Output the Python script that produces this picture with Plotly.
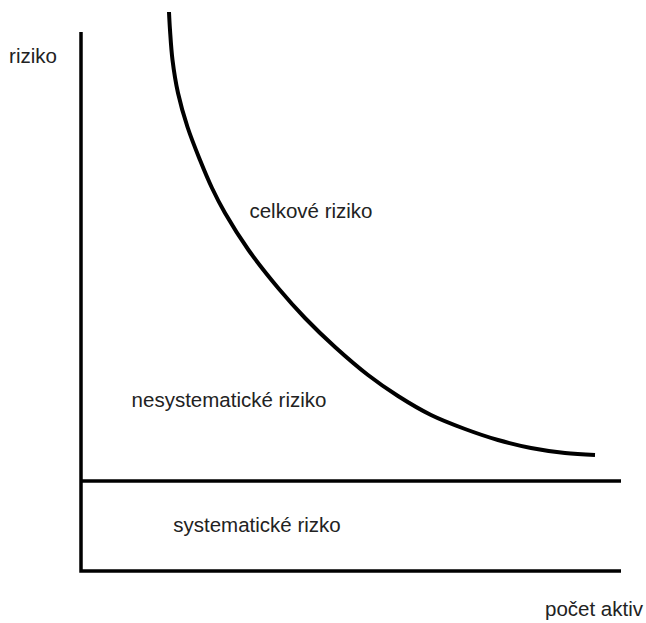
import plotly.graph_objects as go

H = 623
# curve (total risk), in pixel-like units (x right, y down)
curve_x = [169, 170, 172.5, 178, 187.5, 200, 212, 225, 248.5, 279, 305, 335, 368, 398, 431, 465, 498, 531, 565, 595]
curve_y = [12, 30, 60, 93, 127, 160, 188, 213, 250, 289, 318, 347, 375, 396, 415, 429, 440, 448, 453, 455]

axis_x = [81, 81, 621]
axis_y = [32, 571, 571]

sys_x = [81, 621]
sys_y = [481, 481]

labels = ["riziko", "celkové riziko", "nesystematické riziko", "systematické rizko", "počet aktiv"]
label_x = [33, 311, 229, 257, 594]
label_y = [58, 213, 402, 527, 611]

fig = go.Figure()
fig.add_trace(go.Scatter(x=axis_x, y=[H - v for v in axis_y], mode="lines",
                         line=dict(color="black", width=3.5), hoverinfo="skip"))
fig.add_trace(go.Scatter(x=sys_x, y=[H - v for v in sys_y], mode="lines",
                         line=dict(color="black", width=3.5), hoverinfo="skip"))
fig.add_trace(go.Scatter(x=curve_x, y=[H - v for v in curve_y], mode="lines",
                         line=dict(color="black", width=4, shape="spline", smoothing=1.0), hoverinfo="skip"))
fig.add_trace(go.Scatter(x=label_x, y=[H - v for v in label_y], mode="text", text=labels,
                         textposition="middle center",
                         textfont=dict(family="Liberation Sans, Arial", size=20.5, color="#222222"),
                         hoverinfo="skip"))

fig.update_layout(
    width=646, height=623,
    margin=dict(l=0, r=0, t=0, b=0),
    paper_bgcolor="white", plot_bgcolor="white",
    showlegend=False,
    xaxis=dict(range=[0, 646], visible=False, fixedrange=True),
    yaxis=dict(range=[0, 623], visible=False, fixedrange=True),
)
fig.write_html("out.html", config={"displayModeBar": False},
               post_script="document.body.style.margin='0';document.body.style.padding='0';document.body.style.overflow='hidden';")
